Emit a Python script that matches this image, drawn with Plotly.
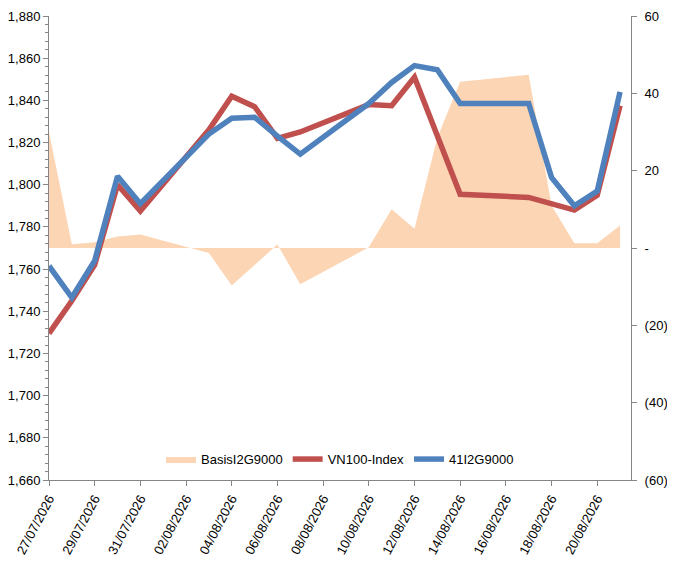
import plotly.graph_objects as go

# trading days (weekends skipped, date axis keeps the gaps)
dates = ["2026-07-27", "2026-07-28", "2026-07-29", "2026-07-30", "2026-07-31",
         "2026-08-03", "2026-08-04", "2026-08-05", "2026-08-06", "2026-08-07",
         "2026-08-10", "2026-08-11", "2026-08-12", "2026-08-13", "2026-08-14",
         "2026-08-17", "2026-08-18", "2026-08-19", "2026-08-20", "2026-08-21"]

vn100 = [1729.5, 1745, 1762, 1800, 1787.5,
         1826, 1842, 1837, 1822, 1825,
         1838, 1837.5, 1851, 1823, 1795.5,
         1794, 1791, 1788, 1795, 1837.5]

fut = [1761.5, 1746.5, 1764, 1804, 1791,
       1824, 1831.5, 1832, 1823, 1814.5,
       1838.5, 1848.5, 1856.5, 1854.5, 1838.5,
       1838.5, 1803.5, 1790, 1797, 1844]

basis = [30, 1, 1.5, 3, 3.5,
         -1.3, -9.7, -4.4, 0.9, -9.4,
         0.2, 10, 5, 28.5, 43,
         44.8, 11, 1.2, 1.2, 5.8]

left_ticks = list(range(1660, 1881, 20))
right_vals = [-60, -40, -20, 0, 20, 40, 60]
right_text = ["(60)", "(40)", "(20)", "-", "20", "40", "60"]

# basis sits on the bottom axis (drawn first), index lines on the overlay
fig = go.Figure()
fig.add_trace(go.Scatter(x=dates, y=basis, name="BasisI2G9000", yaxis="y",
                         mode="lines", fill="tozeroy", fillcolor="#FCD5B4",
                         line=dict(width=0, color="#FCD5B4")))
fig.add_trace(go.Scatter(x=dates, y=vn100, name="VN100-Index", yaxis="y2",
                         mode="lines", line=dict(color="#C0504D", width=5.5)))
fig.add_trace(go.Scatter(x=dates, y=fut, name="41I2G9000", yaxis="y2",
                         mode="lines", line=dict(color="#4F81BD", width=5.5)))

axis_font = dict(family="Liberation Sans, Arial, sans-serif", size=13, color="#000000")
gray = "#868686"

# page body adds an 8px margin, so the figure is a bit smaller than the window
fig.update_layout(
    width=667, height=556,
    margin=dict(l=41, r=44, t=8, b=84),
    paper_bgcolor="white", plot_bgcolor="white",
    font=axis_font,
    showlegend=True,
    legend=dict(orientation="h", x=0.5, xanchor="center", y=0.045, yanchor="middle",
                bgcolor="rgba(0,0,0,0)", font=dict(size=13), itemwidth=30,
                traceorder="normal"),
    xaxis=dict(type="date", range=["2026-07-27", "2026-08-21 11:30"],
               tick0="2026-07-27", dtick=2 * 86400000, tickformat="%d/%m/%Y",
               tickangle=-62, showgrid=False, zeroline=False, automargin=False,
               showline=True, linecolor=gray, linewidth=1,
               ticks="outside", ticklen=5, tickcolor=gray),
    yaxis=dict(range=[-60, 60], side="right",
               tickvals=right_vals, ticktext=right_text, automargin=False,
               showgrid=False, zeroline=False, showline=True,
               linecolor=gray, linewidth=1, ticks="outside", ticklen=5,
               tickcolor=gray, ticklabelstandoff=5),
    yaxis2=dict(range=[1660, 1880], overlaying="y", side="left",
                tickvals=left_ticks, tickformat=",d", automargin=False,
                showgrid=False, zeroline=False, showline=True,
                linecolor=gray, linewidth=1, ticks="outside", ticklen=5,
                tickcolor=gray,
                minor=dict(dtick=4, ticks="outside", ticklen=3, tickcolor=gray)),
)

fig.write_html("out.html")
